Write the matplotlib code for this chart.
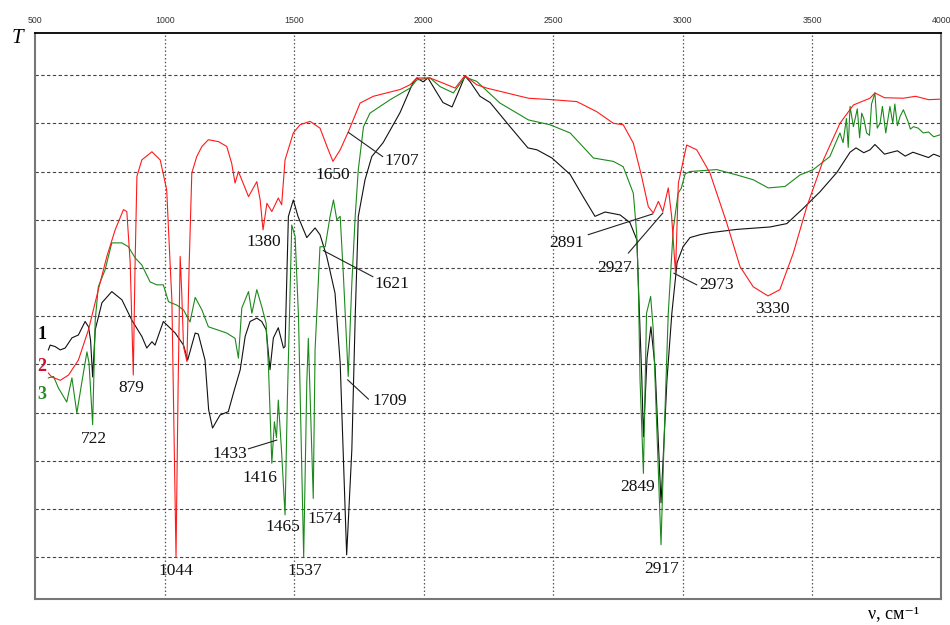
import matplotlib.pyplot as plt
import numpy as np

# spectrum 1 (black)
wn1 = [551, 558, 577, 597, 616, 642, 667, 693, 706, 714, 722, 732, 758, 796, 835, 873, 912,
       931, 951, 963, 995, 1041, 1073, 1089, 1118, 1130, 1156, 1170, 1185, 1214, 1246, 1266,
       1292, 1311, 1330, 1356, 1375, 1392, 1407, 1420, 1439, 1459, 1465, 1478, 1497, 1515,
       1549, 1581, 1600, 1626, 1658, 1678, 1703, 1723, 1736, 1748, 1774, 1800, 1844, 1909,
       1959, 1974, 1998, 2017, 2052, 2075, 2110, 2133, 2160, 2180, 2218, 2257, 2334, 2403,
       2438, 2496, 2566, 2616, 2662, 2701, 2759, 2797, 2824, 2829, 2843, 2849, 2863, 2878,
       2894, 2917, 2940, 2959, 2979, 3002, 3029, 3068, 3106, 3210, 3338, 3403, 3465, 3531,
       3596, 3647, 3670, 3700, 3724, 3743, 3760, 3780, 3801, 3830, 3860, 3890, 3917, 3950,
       3970, 3994]
t1 = [43.0, 44.0, 43.7, 43.0, 43.4, 45.5, 46.1, 48.9, 47.8, 45.0, 37.4, 47.2, 52.8, 55.1,
      53.4, 49.2, 45.8, 43.4, 44.7, 44.0, 48.9, 46.5, 44.0, 40.9, 46.5, 46.3, 40.9, 30.6,
      26.8, 29.5, 30.2, 34.1, 38.9, 45.8, 48.9, 49.6, 48.9, 47.2, 38.9, 45.5, 47.6, 43.4,
      43.7, 70.7, 74.1, 70.7, 66.3, 68.3, 66.9, 62.4, 54.8, 40.3, 0.5, 22.3, 49.9, 70.7,
      78.3, 83.1, 86.0, 92.2, 98.4, 99.4, 98.6, 99.4, 96.3, 94.3, 93.4, 96.3, 99.8, 98.6,
      95.6, 94.3, 89.3, 84.9, 84.5, 82.8, 79.4, 74.8, 70.7, 71.6, 71.0, 69.4, 65.8, 57.5,
      36.8, 25.0, 41.3, 47.8, 39.5, 11.3, 36.8, 50.7, 61.1, 64.4, 66.3, 66.9, 67.3, 68.0,
      68.5, 69.2, 72.3, 75.8, 79.8, 84.0, 84.9, 83.9, 84.5, 85.6, 84.7, 83.6, 83.9, 84.3,
      83.2, 84.0, 83.5, 82.9, 83.6, 83.1]

# spectrum 2 (red)
wn2 = [551, 564, 597, 629, 667, 706, 744, 777, 809, 841, 854, 867, 879, 886, 893, 912, 951,
       983, 1008, 1021, 1028, 1044, 1052, 1060, 1066, 1073, 1086, 1095, 1105, 1124, 1144,
       1169, 1208, 1240, 1259, 1272, 1285, 1324, 1356, 1369, 1380, 1395, 1414, 1439, 1452,
       1465, 1497, 1523, 1562, 1600, 1632, 1650, 1678, 1710, 1755, 1806, 1909, 1948, 1974,
       2025, 2077, 2122, 2160, 2205, 2244, 2405, 2495, 2592, 2669, 2733, 2771, 2810, 2842,
       2868, 2887, 2907, 2924, 2945, 2958, 2973, 2984, 3016, 3055, 3106, 3171, 3222, 3273,
       3330, 3376, 3428, 3480, 3544, 3608, 3660, 3724, 3743, 3780, 3853, 3900, 3950, 3994]
t2 = [38.2, 37.4, 36.7, 37.8, 40.9, 47.2, 55.5, 62.4, 67.9, 72.1, 71.7, 61.1, 37.8, 61.1,
      79.0, 82.4, 84.1, 82.4, 76.2, 61.1, 53.4, 0.1, 35.0, 62.4, 55.0, 43.7, 40.6, 61.1,
      79.7, 83.1, 85.2, 86.6, 86.2, 85.2, 81.7, 77.6, 80.0, 74.8, 77.9, 74.1, 67.9, 73.4,
      71.7, 74.5, 73.1, 82.4, 88.0, 89.7, 90.4, 89.0, 84.5, 82.1, 84.5, 88.3, 94.2, 95.6,
      97.0, 98.0, 99.4, 99.4, 98.3, 97.3, 99.9, 98.0, 97.3, 95.2, 94.9, 94.5, 92.4, 90.0,
      89.7, 85.9, 79.0, 72.7, 71.4, 73.8, 71.7, 76.6, 70.7, 58.9, 77.6, 85.5, 84.5, 79.7,
      69.3, 60.3, 56.1, 54.2, 55.5, 63.1, 72.7, 82.4, 90.0, 93.8, 95.2, 96.3, 95.3, 95.2,
      95.6, 94.9, 95.0]

# spectrum 3 (green)
wn3 = [551, 571, 590, 622, 642, 661, 680, 700, 708, 722, 732, 744, 770, 796, 835, 860, 886,
       912, 944, 970, 995, 1015, 1047, 1073, 1098, 1118, 1144, 1169, 1202, 1240, 1272, 1285,
       1298, 1324, 1337, 1356, 1375, 1392, 1401, 1414, 1424, 1432, 1439, 1452, 1465, 1474,
       1491, 1504, 1517, 1537, 1549, 1555, 1574, 1581, 1600, 1620, 1639, 1652, 1665, 1678,
       1690, 1709, 1723, 1736, 1748, 1768, 1793, 1871, 1948, 1974, 2025, 2064, 2115, 2160,
       2205, 2295, 2405, 2488, 2566, 2656, 2733, 2771, 2810, 2823, 2829, 2836, 2849, 2861,
       2877, 2887, 2917, 2932, 2945, 2964, 2983, 2995, 3010, 3029, 3132, 3209, 3273, 3331,
       3396, 3454, 3505, 3569, 3608, 3620, 3633, 3640, 3647, 3660, 3675, 3684, 3692, 3700,
       3711, 3722, 3730, 3743, 3752, 3763, 3772, 3785, 3801, 3812, 3820, 3830, 3840, 3853,
       3870, 3880, 3892, 3910, 3930, 3950, 3970, 3994]
t3 = [37.2, 37.5, 35.1, 32.2, 37.2, 29.9, 36.2, 42.6, 40.3, 27.5, 49.2, 56.1, 59.6, 65.2,
      65.2, 64.4, 62.1, 60.6, 57.1, 56.5, 56.5, 53.0, 52.3, 51.3, 48.8, 53.9, 51.3, 47.8,
      47.2, 46.5, 45.4, 41.3, 51.7, 55.1, 50.6, 55.5, 52.0, 48.5, 39.5, 19.5, 28.1, 24.8,
      32.6, 21.6, 8.8, 32.6, 68.9, 66.5, 49.9, 0.1, 36.1, 45.4, 12.2, 43.0, 64.4, 64.4,
      70.7, 74.1, 70.0, 70.7, 58.9, 37.5, 56.8, 70.7, 80.4, 89.3, 92.1, 94.9, 97.3, 99.0,
      99.4, 97.6, 96.3, 99.6, 98.7, 94.2, 90.7, 89.7, 88.0, 82.8, 82.1, 81.0, 75.5, 67.2,
      57.5, 36.8, 17.4, 50.6, 54.1, 47.2, 2.6, 29.9, 50.6, 67.9, 75.5, 76.5, 79.5, 80.0,
      80.4, 79.3, 78.3, 76.6, 76.9, 79.3, 80.4, 83.1, 88.0, 86.0, 91.0, 85.0, 93.5, 89.3,
      93.0, 87.0, 92.1, 91.0, 88.0, 87.5, 94.0, 96.3, 89.0, 90.0, 93.5, 88.0, 93.5, 90.0,
      94.0, 89.5, 91.4, 92.8, 90.5, 88.8, 89.3, 89.0, 88.0, 88.2, 87.2, 87.6]

# band labels: text, text position, optional leader line (from, to)
band_text = ['722', '879', '1044', '1380', '1650', '1707', '1621', '1709', '1433', '1416',
             '1465', '1574', '1537', '2891', '2927', '2973', '3330', '2849', '2917']
band_pos = [(727, 24.5), (873, 35.2), (1043, -2.8), (1384, 65.3), (1649, 79.2),
            (1917, 82.1), (1878, 56.6), (1869, 32.4), (1250, 21.4), (1369, 16.5),
            (1456, 6.3), (1617, 7.9), (1541, -2.8), (2551, 65.2), (2739, 60.0),
            (3133, 56.5), (3346, 51.5), (2825, 14.6), (2918, -2.4)]
leaders = {
    '1707': ((1710, 88.1), (1842, 83.1)),
    '1621': ((1613, 63.6), (1804, 58.2)),
    '1709': ((1707, 36.8), (1787, 32.8)),
    '1433': ((1324, 22.5), (1433, 24.3)),
    '2891': ((2636, 66.9), (2885, 71.2)),
    '2927': ((2791, 63.1), (2924, 71.4)),
    '2973': ((2967, 58.9), (3055, 56.5)),
}

colors = ['#111111', '#ff1a1a', '#1b8a1b']
label_colors = ['#000000', '#d0102a', '#2a8a2a']

fig = plt.figure(figsize=(9.5, 6.25), dpi=100)
ax = fig.add_axes([0.037, 0.042, 0.954, 0.905])

for T in range(0, 101, 10):
    ax.axhline(T, color='#444444', lw=0.8, ls=(0, (3, 2.2)), zorder=0)
for v in range(1000, 4000, 500):
    ax.axvline(v, color='#555555', lw=0.9, ls=(0, (1.2, 1.8)), zorder=0)

ax.plot(wn1, t1, color=colors[0], lw=0.8)
ax.plot(wn3, t3, color=colors[2], lw=0.8)
ax.plot(wn2, t2, color=colors[1], lw=0.8)

ax.set_xlim(500, 4000)
ax.set_ylim(-8.6, 108.7)
ax.set_xticks(np.arange(500, 4001, 500))
ax.xaxis.tick_top()
ax.tick_params(axis='x', length=0, pad=6, labelsize=6.3, labelcolor='#333333')
ax.set_yticks([])
for lab in ax.get_xticklabels():
    lab.set_family('Liberation Sans')

ax.spines['top'].set_color('black')
ax.spines['top'].set_linewidth(1.3)
for s in ['left', 'right', 'bottom']:
    ax.spines[s].set_color('#777777')
    ax.spines[s].set_linewidth(1.5)

serif = ['Liberation Serif', 'DejaVu Serif']
for txt, (x, y) in zip(band_text, band_pos):
    ax.text(x, y, txt, ha='center', va='center', fontsize=12.5, family=serif, color='#111111')
    if txt in leaders:
        (x0, y0), (x1, y1) = leaders[txt]
        ax.plot([x0, x1], [y0, y1], color='#222222', lw=0.8)

for i, (n, T) in enumerate(zip(['1', '2', '3'], [46.3, 39.5, 33.7])):
    ax.text(527, T, n, ha='center', va='center', fontsize=13, fontweight='bold',
            family=serif, color=label_colors[i])

fig.text(0.018, 0.939, 'T', fontsize=15, style='italic', family=serif, ha='center', va='center')
fig.text(0.941, 0.018, 'ν, см⁻¹', fontsize=13, family=serif, ha='center', va='center')

fig.savefig('out.png', dpi=100)
